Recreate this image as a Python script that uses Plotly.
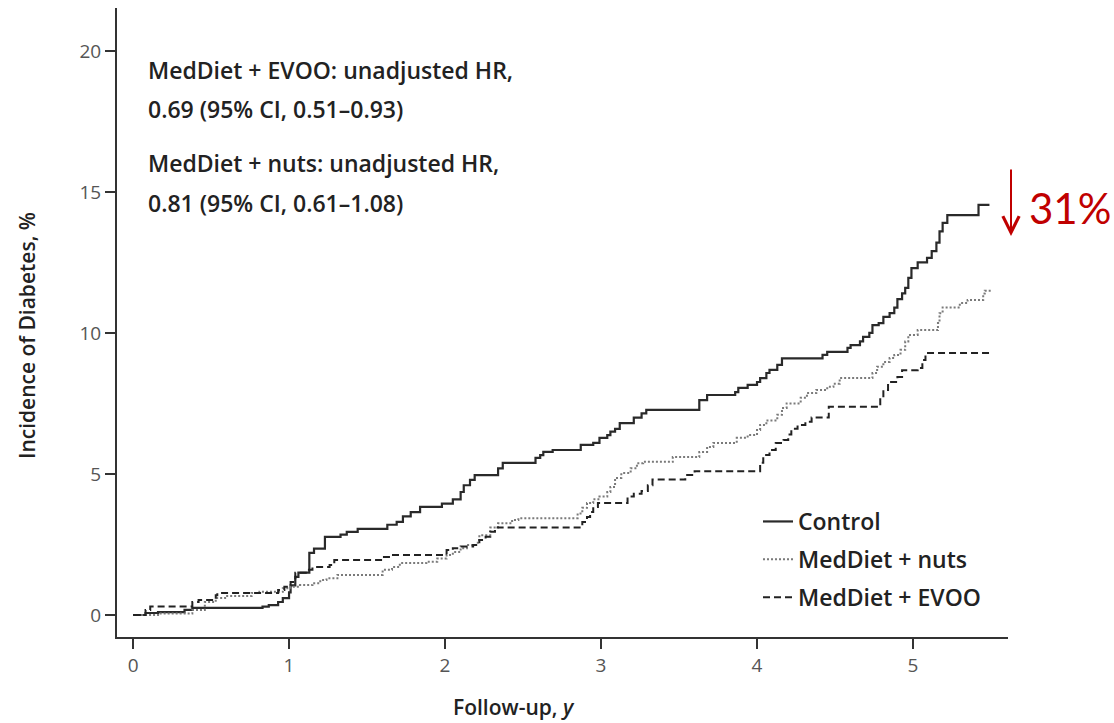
import plotly.graph_objects as go

# Kaplan-Meier style cumulative incidence of diabetes (%) by follow-up year
control_t = [0.00, 0.03, 0.08, 0.16, 0.33, 0.38, 0.83, 0.87, 0.93, 0.96, 1.00, 1.01, 1.04, 1.06,
             1.13, 1.16, 1.23, 1.33, 1.37, 1.44, 1.63, 1.69, 1.73, 1.78, 1.84, 1.98, 2.05, 2.10,
             2.12, 2.16, 2.19, 2.34, 2.37, 2.58, 2.61, 2.63, 2.69, 2.87, 2.95, 2.99, 3.04, 3.06,
             3.09, 3.12, 3.21, 3.26, 3.29, 3.63, 3.68, 3.86, 3.88, 3.94, 4.00, 4.02, 4.06, 4.08,
             4.13, 4.16, 4.42, 4.45, 4.58, 4.60, 4.66, 4.68, 4.72, 4.74, 4.78, 4.81, 4.85, 4.88,
             4.90, 4.93, 4.95, 4.97, 4.99, 5.03, 5.09, 5.12, 5.15, 5.17, 5.19, 5.22, 5.42, 5.49]
control_v = [0.00, 0.00, 0.07, 0.10, 0.18, 0.25, 0.30, 0.35, 0.46, 0.60, 0.80, 1.05, 1.35, 1.50,
             2.20, 2.35, 2.77, 2.85, 2.95, 3.05, 3.20, 3.30, 3.50, 3.65, 3.83, 3.95, 4.10, 4.36,
             4.60, 4.79, 4.96, 5.20, 5.39, 5.57, 5.67, 5.78, 5.85, 6.03, 6.10, 6.28, 6.38, 6.50,
             6.60, 6.80, 7.00, 7.15, 7.27, 7.62, 7.80, 7.90, 8.05, 8.16, 8.26, 8.40, 8.58, 8.69,
             8.87, 9.10, 9.22, 9.33, 9.47, 9.57, 9.70, 9.86, 10.00, 10.28, 10.35, 10.57, 10.70,
             10.90, 11.20, 11.40, 11.60, 11.95, 12.30, 12.50, 12.66, 12.90, 13.20, 13.60, 13.90,
             14.18, 14.54, 14.54]

nuts_t = [0.00, 0.03, 0.16, 0.38, 0.46, 0.53, 0.59, 0.76, 0.81, 0.96, 1.01, 1.07, 1.15, 1.20,
          1.24, 1.31, 1.60, 1.66, 1.71, 1.88, 1.95, 2.01, 2.05, 2.10, 2.14, 2.21, 2.22, 2.29,
          2.34, 2.43, 2.47, 2.85, 2.88, 2.91, 2.95, 2.99, 3.04, 3.06, 3.09, 3.13, 3.19, 3.23,
          3.27, 3.46, 3.63, 3.68, 3.72, 3.87, 3.94, 4.00, 4.02, 4.06, 4.13, 4.16, 4.19, 4.28,
          4.32, 4.38, 4.45, 4.49, 4.53, 4.74, 4.77, 4.81, 4.85, 4.88, 4.92, 4.95, 4.97, 5.03,
          5.16, 5.17, 5.19, 5.30, 5.35, 5.45, 5.46, 5.51]
nuts_v = [0.00, 0.00, 0.05, 0.18, 0.46, 0.60, 0.67, 0.78, 0.82, 0.95, 1.00, 1.06, 1.13, 1.24,
          1.30, 1.42, 1.60, 1.70, 1.84, 1.89, 2.00, 2.13, 2.23, 2.37, 2.48, 2.66, 2.83, 3.10,
          3.25, 3.37, 3.43, 3.60, 3.80, 3.97, 4.10, 4.20, 4.36, 4.54, 4.86, 5.03, 5.20, 5.38,
          5.43, 5.60, 5.78, 5.96, 6.10, 6.28, 6.38, 6.56, 6.74, 6.90, 7.10, 7.34, 7.50, 7.70,
          7.87, 7.98, 8.09, 8.20, 8.40, 8.58, 8.80, 8.97, 9.11, 9.22, 9.40, 9.70, 9.93, 10.10,
          10.35, 10.70, 10.90, 11.06, 11.17, 11.40, 11.50, 11.50]

evoo_t = [0.00, 0.03, 0.08, 0.11, 0.38, 0.42, 0.53, 0.54, 0.93, 0.97, 1.01, 1.04, 1.12, 1.15,
          1.26, 1.29, 1.60, 1.65, 2.01, 2.05, 2.10, 2.18, 2.22, 2.26, 2.29, 2.32, 2.88, 2.91,
          2.93, 2.95, 2.98, 3.17, 3.21, 3.26, 3.30, 3.33, 3.54, 3.60, 4.02, 4.04, 4.08, 4.12,
          4.17, 4.20, 4.22, 4.26, 4.31, 4.35, 4.46, 4.79, 4.81, 4.84, 4.90, 4.93, 5.03, 5.06,
          5.08, 5.51]
evoo_v = [0.00, 0.00, 0.18, 0.30, 0.46, 0.53, 0.70, 0.78, 0.89, 1.00, 1.17, 1.50, 1.60, 1.70,
          1.77, 1.95, 2.06, 2.13, 2.30, 2.37, 2.43, 2.48, 2.66, 2.77, 2.95, 3.10, 3.30, 3.47,
          3.65, 3.83, 3.97, 4.20, 4.30, 4.40, 4.60, 4.80, 4.96, 5.10, 5.40, 5.67, 5.85, 6.10,
          6.20, 6.40, 6.60, 6.74, 6.85, 7.00, 7.38, 7.70, 7.98, 8.26, 8.44, 8.68, 8.76, 9.04,
          9.29, 9.29]

x_ticks = [0, 1, 2, 3, 4, 5]
y_ticks = [0, 5, 10, 15, 20]

hr_lines = [
    ("MedDiet + EVOO: unadjusted HR,", 19.33),
    ("0.69 (95% CI, 0.51–0.93)", 17.93),
    ("MedDiet + nuts: unadjusted HR,", 16.03),
    ("0.81 (95% CI, 0.61–1.08)", 14.62),
]

TEXT_FONT = "Open Sans"
INK = "#222222"
RED = "#C00000"

W, H = 1114, 723
ML, MR, MT, MB = 117, 106, 8, 86
pw, ph = W - ML - MR, H - MT - MB


def px_x(px):
    return (px - ML) / pw


def px_y(py):
    return (H - MB - py) / ph


fig = go.Figure()
fig.add_trace(go.Scatter(x=control_t, y=control_v, mode="lines", name="Control",
                         line=dict(shape="hv", color="#2a2a2a", width=2.2),
                         legendgroup="a"))
fig.add_trace(go.Scatter(x=nuts_t, y=nuts_v, mode="lines", name="MedDiet + nuts",
                         line=dict(shape="hv", color="#7a7a7a", width=2, dash="2px,2px"),
                         legendgroup="b"))
fig.add_trace(go.Scatter(x=evoo_t, y=evoo_v, mode="lines", name="MedDiet + EVOO",
                         line=dict(shape="hv", color="#222222", width=2, dash="7px,4px"),
                         legendgroup="c"))

annotations = []
for text, yv in hr_lines:
    annotations.append(dict(x=0.083, y=yv, xref="x", yref="y", text=text, showarrow=False,
                            xanchor="left", yanchor="middle",
                            font=dict(family=TEXT_FONT, size=23, color=INK, weight=600)))

# reduction marker next to the curve ends
annotations.append(dict(x=px_x(1011), y=px_y(236), xref="paper", yref="paper",
                        ax=0, ay=-68, text="", showarrow=True,
                        arrowhead=5, arrowsize=1.6, arrowwidth=2, arrowcolor=RED))
annotations.append(dict(x=px_x(1027), y=px_y(208), xref="paper", yref="paper", text="31%",
                        showarrow=False, xanchor="left", yanchor="middle",
                        font=dict(family="Lato", size=42, color=RED)))

# axis titles
annotations.append(dict(x=px_x(514), y=px_y(707), xref="paper", yref="paper",
                        text="Follow-up, <i>y</i>", showarrow=False,
                        xanchor="center", yanchor="middle",
                        font=dict(family=TEXT_FONT, size=21, color=INK, weight=600)))
annotations.append(dict(x=px_x(27), y=px_y(336), xref="paper", yref="paper",
                        text="Incidence of Diabetes, %", showarrow=False, textangle=-90,
                        xanchor="center", yanchor="middle",
                        font=dict(family=TEXT_FONT, size=21, color=INK, weight=600)))

fig.update_layout(
    width=W, height=H,
    margin=dict(l=ML, r=MR, t=MT, b=MB),
    paper_bgcolor="white", plot_bgcolor="white",
    showlegend=True,
    legend=dict(x=px_x(758), y=px_y(500), xanchor="left", yanchor="top",
                bgcolor="rgba(0,0,0,0)", tracegroupgap=5, traceorder="grouped",
                font=dict(family=TEXT_FONT, size=23, color=INK, weight=600),
                itemwidth=30),
    annotations=annotations,
    xaxis=dict(range=[-0.103, 5.609], tickvals=x_ticks, ticktext=[str(v) for v in x_ticks],
               showgrid=False, zeroline=False, showline=True, linecolor="#333333", linewidth=2,
               ticks="outside", ticklen=10, tickwidth=2, tickcolor="#333333",
               tickfont=dict(family=TEXT_FONT, size=19, color="#555555")),
    yaxis=dict(range=[-0.78, 21.52], tickvals=y_ticks, ticktext=[str(v) for v in y_ticks],
               showgrid=False, zeroline=False, showline=True, linecolor="#333333", linewidth=2,
               ticks="outside", ticklen=10, tickwidth=2, tickcolor="#333333",
               tickfont=dict(family=TEXT_FONT, size=19, color="#555555")),
)

fig.write_html("out.html")
